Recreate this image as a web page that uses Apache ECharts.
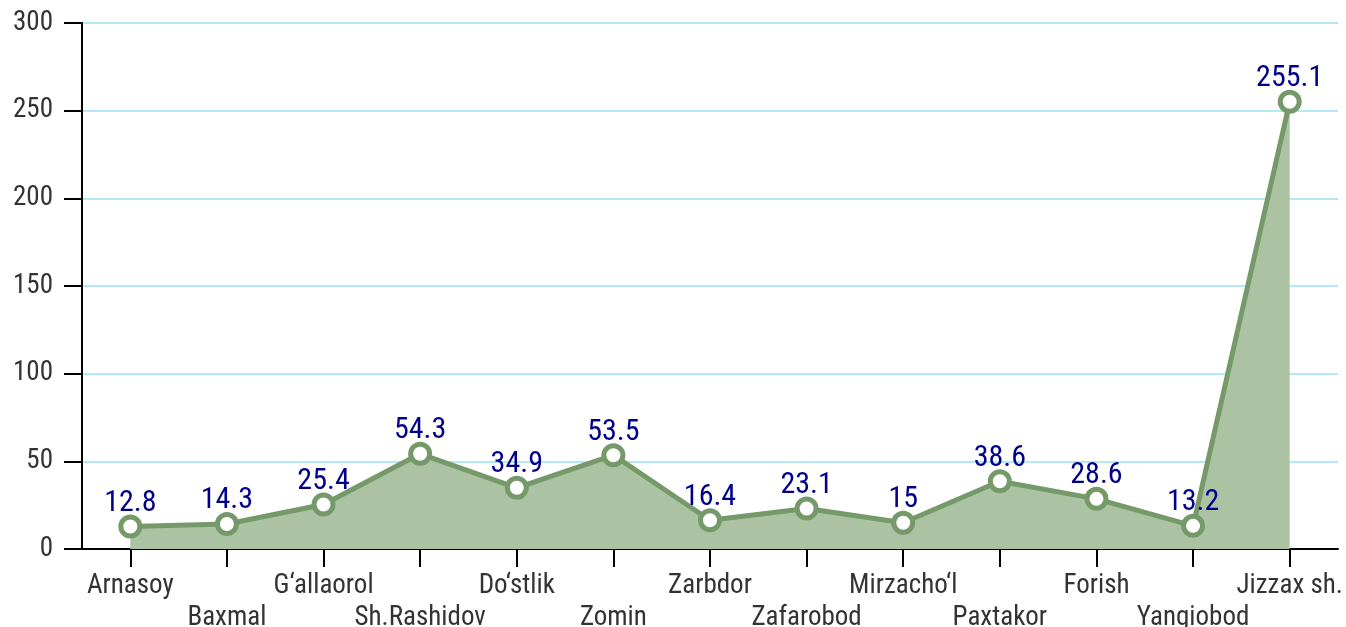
<!DOCTYPE html>
<html>
<head>
<meta charset="utf-8">
<script src="https://cdn.jsdelivr.net/npm/echarts@6/dist/echarts.min.js"></script>
<style>
html, body { margin: 0; padding: 0; background: #fff; }
#chart { width: 1346px; height: 627px; }
</style>
</head>
<body>
<div id="chart"></div>
<script>
var districts = ['Arnasoy', 'Baxmal', 'G‘allaorol', 'Sh.Rashidov', 'Do‘stlik', 'Zomin', 'Zarbdor',
    'Zafarobod', 'Mirzacho‘l', 'Paxtakor', 'Forish', 'Yangiobod', 'Jizzax sh.'];
var values = [12.8, 14.3, 25.4, 54.3, 34.9, 53.5, 16.4, 23.1, 15, 38.6, 28.6, 13.2, 255.1];

var fontFam = "'Roboto Condensed', 'Liberation Sans Narrow', 'DejaVu Sans Condensed', Roboto, sans-serif";
var chart = echarts.init(document.getElementById('chart'));

var option = {
    backgroundColor: '#fff',
    animation: false,
    grid: { left: 82, right: 8, top: 23, bottom: 78, containLabel: false, outerBoundsMode: 'none' },
    xAxis: {
        type: 'category',
        data: districts,
        boundaryGap: true,
        axisLine: { show: true, lineStyle: { color: '#000', width: 2 } },
        axisTick: { show: true, alignWithLabel: true, length: 18, lineStyle: { color: '#000', width: 2 } },
        axisLabel: {
            interval: 0,
            margin: 21,
            color: '#333',
            fontSize: 27,
            fontFamily: fontFam,
            lineHeight: 32,
            formatter: function (v, i) { return i % 2 ? '\n' + v : v; }
        },
        splitLine: { show: false }
    },
    yAxis: {
        type: 'value',
        min: 0,
        max: 300,
        interval: 50,
        axisLine: { show: true, lineStyle: { color: '#000', width: 2 } },
        axisTick: { show: true, length: 18, lineStyle: { color: '#000', width: 2 } },
        axisLabel: { color: '#333', fontSize: 27, fontFamily: fontFam, margin: 29 },
        splitLine: { show: true, lineStyle: { color: '#b3e9f6', width: 2 } }
    },
    series: [{
        type: 'line',
        data: values,
        symbol: 'circle',
        symbolSize: 19,
        lineStyle: { color: '#76996a', width: 5 },
        itemStyle: { color: '#fff', borderColor: '#76996a', borderWidth: 5 },
        areaStyle: { color: '#abc3a3', opacity: 1 },
        label: {
            show: true,
            position: 'top',
            distance: -4,
            color: '#00008b',
            fontSize: 30,
            fontFamily: fontFam
        },
        z: 3
    }]
};

chart.setOption(option);
</script>
</body>
</html>
